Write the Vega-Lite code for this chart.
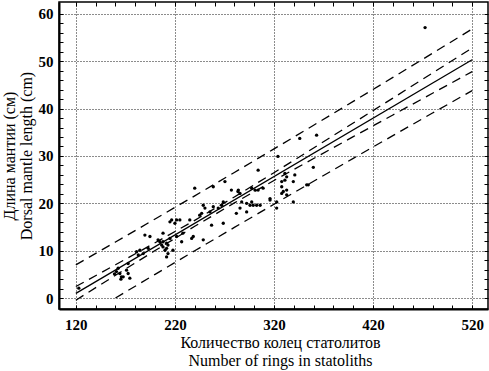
{
  "$schema": "https://vega.github.io/schema/vega-lite/v6.json",
  "width": 429,
  "height": 307,
  "autosize": {"type": "none"},
  "padding": {"left": 59, "top": 2, "right": 1, "bottom": 62},
  "background": "white",
  "config": {
    "view": {"stroke": "black", "strokeWidth": 1.5},
    "axis": {"labelFont": "Liberation Serif", "titleFont": "Liberation Serif", "labelColor": "black", "titleColor": "black", "tickColor": "black", "domainColor": "black"}
  },
  "datasets": {
    "pts": [
      {"x": 123, "y": 2.1}, {"x": 159, "y": 5.1}, {"x": 161, "y": 5.6}, {"x": 162.7, "y": 6.3}, {"x": 164.4, "y": 5.2},
      {"x": 166, "y": 4.5}, {"x": 167.8, "y": 4.5}, {"x": 165.5, "y": 4.0}, {"x": 172.8, "y": 5.2}, {"x": 174.5, "y": 4.2},
      {"x": 171.2, "y": 5.9}, {"x": 172.8, "y": 7.3}, {"x": 181.3, "y": 9.8}, {"x": 184.6, "y": 10.1}, {"x": 188, "y": 9.4},
      {"x": 183, "y": 9.1}, {"x": 189.7, "y": 13.3}, {"x": 194.8, "y": 13.0}, {"x": 193, "y": 10.5}, {"x": 203, "y": 12.3},
      {"x": 204.8, "y": 11.9}, {"x": 208, "y": 11.9}, {"x": 211.6, "y": 11.6}, {"x": 213, "y": 11.2}, {"x": 208, "y": 10.8},
      {"x": 211.6, "y": 10.5}, {"x": 210, "y": 10.1}, {"x": 213, "y": 9.4}, {"x": 211.6, "y": 8.7}, {"x": 206.6, "y": 11.2},
      {"x": 208, "y": 13.7}, {"x": 215, "y": 12.6}, {"x": 218, "y": 10.1}, {"x": 221.7, "y": 13.0}, {"x": 226.8, "y": 11.9},
      {"x": 215, "y": 16.1}, {"x": 216.7, "y": 16.5}, {"x": 220, "y": 15.8}, {"x": 225, "y": 16.5}, {"x": 221.7, "y": 16.5},
      {"x": 228, "y": 13.7}, {"x": 235, "y": 16.5}, {"x": 238.5, "y": 13.0}, {"x": 236.9, "y": 12.6}, {"x": 240, "y": 23.2},
      {"x": 247, "y": 17.9}, {"x": 248.6, "y": 19.6}, {"x": 248.6, "y": 12.3}, {"x": 245, "y": 17.5}, {"x": 250.3, "y": 19.0},
      {"x": 255.4, "y": 18.2}, {"x": 257, "y": 15.4}, {"x": 258.7, "y": 19.3}, {"x": 258.7, "y": 23.5}, {"x": 263.7, "y": 19.0},
      {"x": 267.2, "y": 19.6}, {"x": 268.8, "y": 20.3}, {"x": 268.8, "y": 15.8}, {"x": 270.5, "y": 24.6}, {"x": 277, "y": 22.8},
      {"x": 282, "y": 17.9}, {"x": 283.6, "y": 22.5}, {"x": 285.7, "y": 22.1}, {"x": 284, "y": 22.8}, {"x": 285.7, "y": 19.0},
      {"x": 287.4, "y": 20.3}, {"x": 292.4, "y": 20.0}, {"x": 292.4, "y": 18.2}, {"x": 295.8, "y": 19.6}, {"x": 297.5, "y": 20.3},
      {"x": 299, "y": 19.6}, {"x": 300.8, "y": 22.8}, {"x": 297.5, "y": 23.2}, {"x": 302.5, "y": 19.6}, {"x": 304, "y": 27.0},
      {"x": 304, "y": 22.8}, {"x": 306, "y": 19.6}, {"x": 309, "y": 23.2}, {"x": 316, "y": 21.0}, {"x": 316, "y": 20.7},
      {"x": 322.7, "y": 20.3}, {"x": 322.7, "y": 19.0}, {"x": 324, "y": 29.9}, {"x": 327.8, "y": 24.6}, {"x": 327.8, "y": 23.5},
      {"x": 327.8, "y": 22.1}, {"x": 329.4, "y": 22.5}, {"x": 331, "y": 24.9}, {"x": 331, "y": 26.3}, {"x": 332.8, "y": 25.6},
      {"x": 332.8, "y": 22.8}, {"x": 332.8, "y": 21.8}, {"x": 339.5, "y": 24.6}, {"x": 339.5, "y": 20.3}, {"x": 341, "y": 26.0},
      {"x": 346, "y": 33.7}, {"x": 353, "y": 23.9}, {"x": 354.6, "y": 23.9}, {"x": 359.7, "y": 27.6}, {"x": 363, "y": 34.4},
      {"x": 472.5, "y": 57.1}
    ],
    "lines": [
      {"line": "fit", "x": 120, "y": 1.0}, {"line": "fit", "x": 520, "y": 50.3},
      {"line": "cu", "x": 120, "y": 2.44}, {"line": "cu", "x": 160, "y": 7.04}, {"line": "cu", "x": 200, "y": 11.68}, {"line": "cu", "x": 240, "y": 16.42},
      {"line": "cu", "x": 280, "y": 21.35}, {"line": "cu", "x": 320, "y": 26.47}, {"line": "cu", "x": 360, "y": 31.69}, {"line": "cu", "x": 400, "y": 36.95},
      {"line": "cu", "x": 440, "y": 42.22}, {"line": "cu", "x": 480, "y": 47.51}, {"line": "cu", "x": 520, "y": 52.8},
      {"line": "cl", "x": 120, "y": -0.44}, {"line": "cl", "x": 160, "y": 4.82}, {"line": "cl", "x": 200, "y": 10.04}, {"line": "cl", "x": 240, "y": 15.16},
      {"line": "cl", "x": 280, "y": 20.09}, {"line": "cl", "x": 320, "y": 24.83}, {"line": "cl", "x": 360, "y": 29.47}, {"line": "cl", "x": 400, "y": 34.07},
      {"line": "cl", "x": 440, "y": 38.66}, {"line": "cl", "x": 480, "y": 43.23}, {"line": "cl", "x": 520, "y": 47.8},
      {"line": "pu", "x": 120, "y": 7.01}, {"line": "pu", "x": 160, "y": 11.84}, {"line": "pu", "x": 200, "y": 16.7}, {"line": "pu", "x": 240, "y": 21.59},
      {"line": "pu", "x": 280, "y": 26.52}, {"line": "pu", "x": 320, "y": 31.49}, {"line": "pu", "x": 360, "y": 36.49}, {"line": "pu", "x": 400, "y": 41.52},
      {"line": "pu", "x": 440, "y": 46.58}, {"line": "pu", "x": 480, "y": 51.68}, {"line": "pu", "x": 520, "y": 56.8},
      {"line": "pl", "x": 160, "y": 0.02}, {"line": "pl", "x": 200, "y": 5.02}, {"line": "pl", "x": 240, "y": 9.99},
      {"line": "pl", "x": 280, "y": 14.92}, {"line": "pl", "x": 320, "y": 19.81}, {"line": "pl", "x": 360, "y": 24.67}, {"line": "pl", "x": 400, "y": 29.5},
      {"line": "pl", "x": 440, "y": 34.3}, {"line": "pl", "x": 480, "y": 39.06}, {"line": "pl", "x": 520, "y": 43.8}
    ]
  },
  "layer": [
    {
      "data": {"name": "pts"},
      "mark": {"type": "circle", "size": 11, "color": "black", "opacity": 1},
      "encoding": {
        "x": {"field": "x", "type": "quantitative",
          "scale": {"domain": [103, 536], "nice": false, "zero": false},
          "axis": {"orient": "bottom", "values": [120, 220, 320, 420, 520], "grid": true, "gridDash": [1, 2], "gridColor": "black", "gridOpacity": 0.9,
            "ticks": false, "domain": true, "domainWidth": 2, "labelFontSize": 15, "labelFontWeight": "bold", "labelPadding": 8,
            "title": ["Количество колец статолитов", "Number of rings in statoliths"], "titleFontSize": 16, "titleFontWeight": "normal", "titlePadding": 2, "titleLineHeight": 18, "titleX": 221}},
        "y": {"field": "y", "type": "quantitative",
          "scale": {"domain": [-2.3, 62.5], "nice": false, "zero": false},
          "axis": {"orient": "left", "values": [0, 10, 20, 30, 40, 50, 60], "grid": true, "gridDash": [1, 2], "gridColor": "black", "gridOpacity": 0.9,
            "ticks": false, "domain": true, "domainWidth": 2, "labelFontSize": 15, "labelFontWeight": "bold", "labelPadding": 6,
            "title": ["Длина мантии (см)", "Dorsal mantle length (cm)"], "titleFontSize": 16, "titleFontWeight": "normal", "titlePadding": 4, "titleLineHeight": 17}}
      }
    },
    {
      "data": {"name": "lines"},
      "transform": [{"filter": "datum.line === 'fit'"}],
      "mark": {"type": "line", "color": "black", "strokeWidth": 1.3, "clip": true},
      "encoding": {
        "x": {"field": "x", "type": "quantitative",
          "axis": {"orient": "bottom", "values": [120, 140, 160, 180, 200, 220, 240, 260, 280, 300, 320, 340, 360, 380, 400, 420, 440, 460, 480, 500, 520],
            "ticks": true, "tickSize": -4, "labels": false, "domain": false, "grid": false, "title": null}},
        "y": {"field": "y", "type": "quantitative",
          "axis": {"orient": "left", "values": [0, 2, 4, 6, 8, 10, 12, 14, 16, 18, 20, 22, 24, 26, 28, 30, 32, 34, 36, 38, 40, 42, 44, 46, 48, 50, 52, 54, 56, 58, 60],
            "ticks": true, "tickSize": -4, "labels": false, "domain": false, "grid": false, "title": null}}
      }
    },
    {
      "data": {"name": "lines"},
      "transform": [{"filter": "datum.line !== 'fit'"}],
      "mark": {"type": "line", "color": "black", "strokeWidth": 1.3, "strokeDash": [9, 6], "clip": true},
      "encoding": {
        "detail": {"field": "line"},
        "x": {"field": "x", "type": "quantitative",
          "axis": {"orient": "top", "values": [120, 140, 160, 180, 200, 220, 240, 260, 280, 300, 320, 340, 360, 380, 400, 420, 440, 460, 480, 500, 520],
            "ticks": true, "tickSize": -4, "labels": false, "domain": false, "grid": false, "title": null}},
        "y": {"field": "y", "type": "quantitative",
          "axis": {"orient": "right", "values": [0, 2, 4, 6, 8, 10, 12, 14, 16, 18, 20, 22, 24, 26, 28, 30, 32, 34, 36, 38, 40, 42, 44, 46, 48, 50, 52, 54, 56, 58, 60],
            "ticks": true, "tickSize": -4, "labels": false, "domain": false, "grid": false, "title": null}}
      }
    }
  ],
  "resolve": {"axis": {"x": "independent", "y": "independent"}}
}
